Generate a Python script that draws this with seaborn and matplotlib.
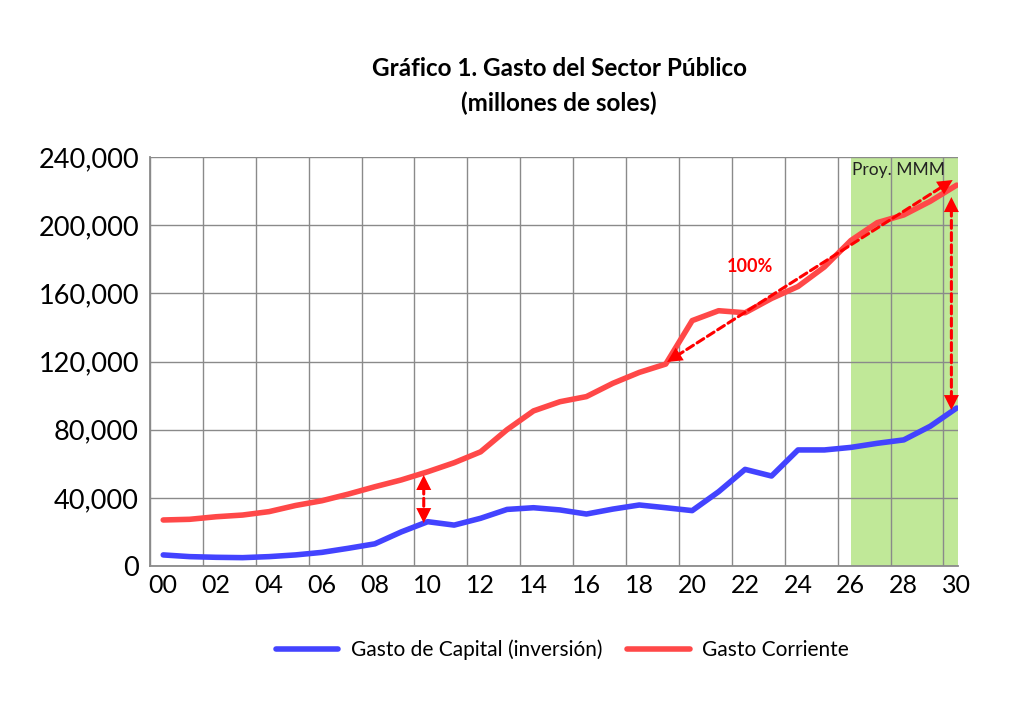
import pandas as pd
import matplotlib.pyplot as plt
import seaborn as sns
from matplotlib.ticker import FuncFormatter, MultipleLocator

# -------------------------------
# Data (millones de soles)
# -------------------------------
years = list(range(0, 31))
year_labels = [f"{y:02d}" for y in range(0, 31, 2)]

gasto_capital = [6500, 5500, 5100, 4900, 5500, 6500, 8000, 10400, 13000, 20000,
                 26000, 24000, 28000, 33200, 34200, 32900, 30500, 33400, 35800, 34200,
                 32500, 43600, 56700, 52800, 68100, 68100, 69600, 72000, 74000, 82000,
                 92700]

gasto_corriente = [27000, 27400, 28900, 29900, 31900, 35500, 38300, 42200, 46500, 50500,
                   55300, 60600, 67000, 80000, 91000, 96400, 99400, 107200, 113600, 118500,
                   144000, 149800, 148600, 157000, 164000, 175500, 191000, 201500, 206000, 214000,
                   223500]

serie_capital = "Gasto de Capital (inversión)"
serie_corriente = "Gasto Corriente"

proy_inicio = 26
proy_fin = 30.05

df = pd.DataFrame({
    "Año": years * 2,
    "Valor": gasto_capital + gasto_corriente,
    "Serie": [serie_capital] * len(years) + [serie_corriente] * len(years),
})

# -------------------------------
# Style
# -------------------------------
sns.set_theme(style="white")
plt.rcParams["font.family"] = ["Lato", "DejaVu Sans"]
plt.rcParams["text.color"] = "black"

azul = "#4343ff"
rojo = "#ff4848"
verde = "#c0e898"
gris = "#8a8a8a"

fig = plt.figure(figsize=(10.24, 7.21), dpi=100)
ax = fig.add_axes([150 / 1024, 1 - 566 / 721, 808 / 1024, 409 / 721])

ax.axvspan(proy_inicio, proy_fin, color=verde, zorder=0, lw=0)

sns.lineplot(data=df, x="Año", y="Valor", hue="Serie",
             palette={serie_capital: azul, serie_corriente: rojo},
             linewidth=4, ax=ax, zorder=3)
for line in ax.lines:
    line.set_solid_joinstyle("round")
    line.set_solid_capstyle("round")

# -------------------------------
# Axes
# -------------------------------
ax.set_xlim(-0.5, proy_fin)
ax.set_ylim(0, 240000)
ax.set_xticks(range(0, 31, 2))
ax.set_xticklabels(year_labels)
ax.xaxis.set_minor_locator(MultipleLocator(2, offset=1.5))
ax.yaxis.set_major_locator(MultipleLocator(40000))
ax.yaxis.set_major_formatter(FuncFormatter(lambda v, p: f"{int(v):,}"))

ax.grid(which="minor", axis="x", color=gris, lw=1, zorder=1)
ax.grid(which="major", axis="y", color=gris, lw=1, zorder=1)
ax.set_axisbelow(True)
ax.tick_params(axis="both", which="both", length=0)
ax.tick_params(axis="y", labelsize=19.5, pad=8, colors="black")
ax.tick_params(axis="x", labelsize=18, pad=6, colors="black")

for s in ["top", "right"]:
    ax.spines[s].set_visible(False)
for s in ["left", "bottom"]:
    ax.spines[s].set_color(gris)
    ax.spines[s].set_linewidth(1.3)

ax.set_xlabel("")
ax.set_ylabel("")


# -------------------------------
# Annotations (dashed shaft + solid heads)
# -------------------------------
def flecha_doble(p1, p2):
    ax.annotate("", xy=p2, xytext=p1, zorder=5,
                arrowprops=dict(arrowstyle="-", color="red", lw=2.2,
                                ls=(0, (2.6, 1.4)), shrinkA=8, shrinkB=8))
    ax.annotate("", xy=p2, xytext=p1, zorder=5,
                arrowprops=dict(arrowstyle="<|-|>,head_length=0.9,head_width=0.45",
                                color="red", lw=0, shrinkA=0, shrinkB=0))


flecha_doble((9.85, 53400), (9.85, 25200))
flecha_doble((19.05, 119700), (29.85, 226500))
flecha_doble((29.8, 216500), (29.8, 91500))

ax.text(22.2, 175500, "100%", color="red", fontsize=13, fontweight="bold",
        ha="center", va="center", zorder=6)
ax.text(proy_inicio + 0.05, 232300, "Proy. MMM", color="#222222", fontsize=12.5,
        ha="left", va="center", zorder=6)

# -------------------------------
# Title and legend
# -------------------------------
fig.text(0.546, 1 - 68 / 721, "Gráfico 1. Gasto del Sector Público",
         fontsize=17.5, fontweight="bold", ha="center", va="center")
fig.text(0.546, 1 - 103 / 721, "(millones de soles)",
         fontsize=17.5, fontweight="bold", ha="center", va="center")

sns.move_legend(ax, "center", bbox_to_anchor=(0.549, 1 - 650 / 721),
                bbox_transform=fig.transFigure, ncol=2, frameon=False, title=None,
                fontsize=15, handlelength=3.0, columnspacing=1.2, handletextpad=0.6)
for t in ax.get_legend().get_texts():
    t.set_color("black")

fig.savefig("out.png", dpi=100)
